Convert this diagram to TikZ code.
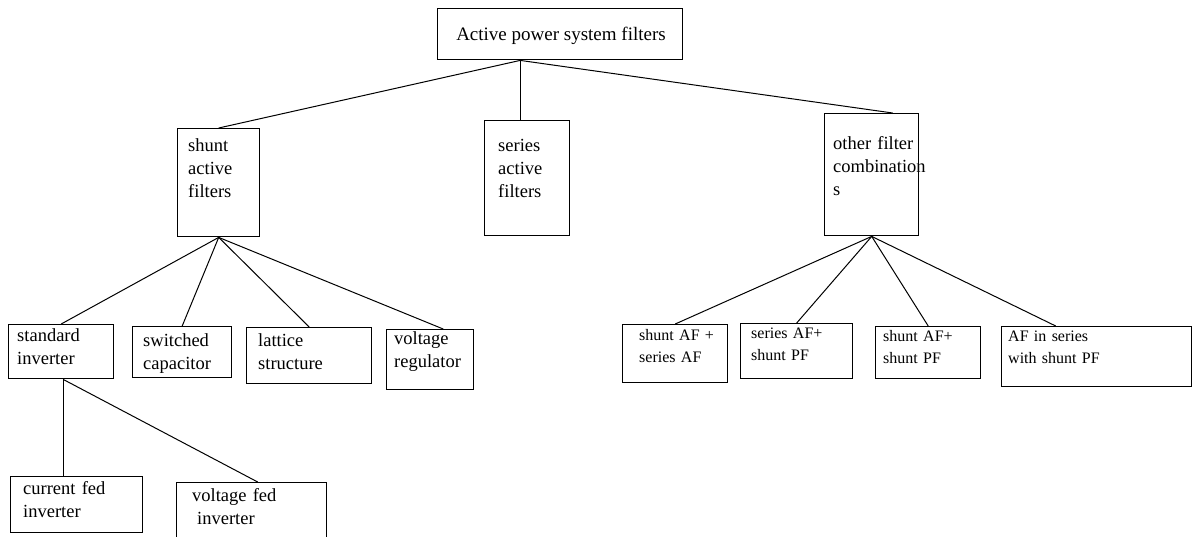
\documentclass[tikz,border=0pt]{standalone}
\usepackage{fontspec}
\setmainfont{Liberation Serif}
\usepackage{tikz}

\begin{document}
\begin{tikzpicture}[x=1pt, y=-1pt,
    box/.style={shape=rectangle, draw, line width=1.4pt, anchor=north west, inner sep=0pt},
    txt/.style={anchor=base west, inner sep=0pt, align=left, text width=160pt,
                font=\fontsize{18.5}{23}\selectfont},
    small/.style={txt, font=\fontsize{16}{22.5}\selectfont},
    conn/.style={line width=1pt}]
    \clip (0,0) rectangle (1193,536);
    \fill[white] (0,0) rectangle (1193,536);

    % top level
    \node[box, minimum width=245pt, minimum height=51pt] (root) at (437,8) {};
    \node[anchor=base, inner sep=0pt, font=\fontsize{19}{23}\selectfont] (roottxt) at (561,40) {Active power system filters};

    % second level
    \node[box, minimum width=82pt, minimum height=108pt] (shunt) at (177,128) {};
    \node[txt] (shunttxt) at (188,151) {shunt\\active\\filters};
    \node[box, minimum width=85pt, minimum height=115pt] (series) at (484,120) {};
    \node[txt] (seriestxt) at (498,151) {series\\active\\filters};
    \node[box, minimum width=94pt, minimum height=122pt] (other) at (824,113) {};
    \node[txt] (othertxt) at (833,149) {other filter\\combination\\s};

    % shunt branches
    \node[box, minimum width=105pt, minimum height=54pt] (std) at (8,324) {};
    \node[txt] (stdtxt) at (17,341) {standard\\inverter};
    \node[box, minimum width=99pt, minimum height=51pt] (switched) at (132,326) {};
    \node[txt] (switchedtxt) at (143,346) {switched\\capacitor};
    \node[box, minimum width=125pt, minimum height=56pt] (lattice) at (246,327) {};
    \node[txt] (latticetxt) at (258,346) {lattice\\structure};
    \node[box, minimum width=87pt, minimum height=60pt] (voltreg) at (386,329) {};
    \node[txt] (voltregtxt) at (394,344) {voltage\\regulator};

    % other combinations
    \node[box, minimum width=105pt, minimum height=58pt] (shuntaf) at (622,324) {};
    \node[small] (shuntaftxt) at (639,340) {shunt AF +\\series AF};
    \node[box, minimum width=112pt, minimum height=55pt] (seriesaf) at (740,323) {};
    \node[small] (seriesaftxt) at (751,338) {series AF+\\shunt PF};
    \node[box, minimum width=105pt, minimum height=52pt] (shuntpf) at (875,326) {};
    \node[small] (shuntpftxt) at (883,341) {shunt AF+\\shunt PF};
    \node[box, minimum width=190pt, minimum height=60pt] (afseries) at (1001,326) {};
    \node[small] (afseriestxt) at (1008,341) {AF in series\\with shunt PF};

    % inverter types
    \node[box, minimum width=132pt, minimum height=56pt] (curfed) at (10,476) {};
    \node[txt] (curfedtxt) at (23,494) {current fed\\inverter};
    \node[box, minimum width=150pt, minimum height=70pt] (volfed) at (176,482) {};
    \node[txt] (volfedtxt) at (192,501) {voltage fed\\\hspace*{5pt}inverter};

    % connectors
    \coordinate (rootj) at ([xshift=-40pt]root.south);
    \draw[conn] (rootj) -- (shunt.north);
    \draw[conn] (rootj) -- (rootj |- series.north);
    \draw[conn] (rootj) -- ([xshift=21pt]other.north);

    \draw[conn] (shunt.south) -- (std.north);
    \draw[conn] (shunt.south) -- (switched.north);
    \draw[conn] (shunt.south) -- (lattice.north);
    \draw[conn] (shunt.south) -- ([xshift=13pt]voltreg.north);

    \draw[conn] (other.south) -- (shuntaf.north);
    \draw[conn] (other.south) -- (seriesaf.north);
    \draw[conn] (other.south) -- (shuntpf.north);
    \draw[conn] (other.south) -- ([xshift=-41pt]afseries.north);

    \coordinate (stdj) at ([xshift=2pt]std.south);
    \draw[conn] (stdj) -- (stdj |- curfed.north);
    \draw[conn] (stdj) -- ([xshift=6pt]volfed.north);
  \end{tikzpicture}
\end{document}
